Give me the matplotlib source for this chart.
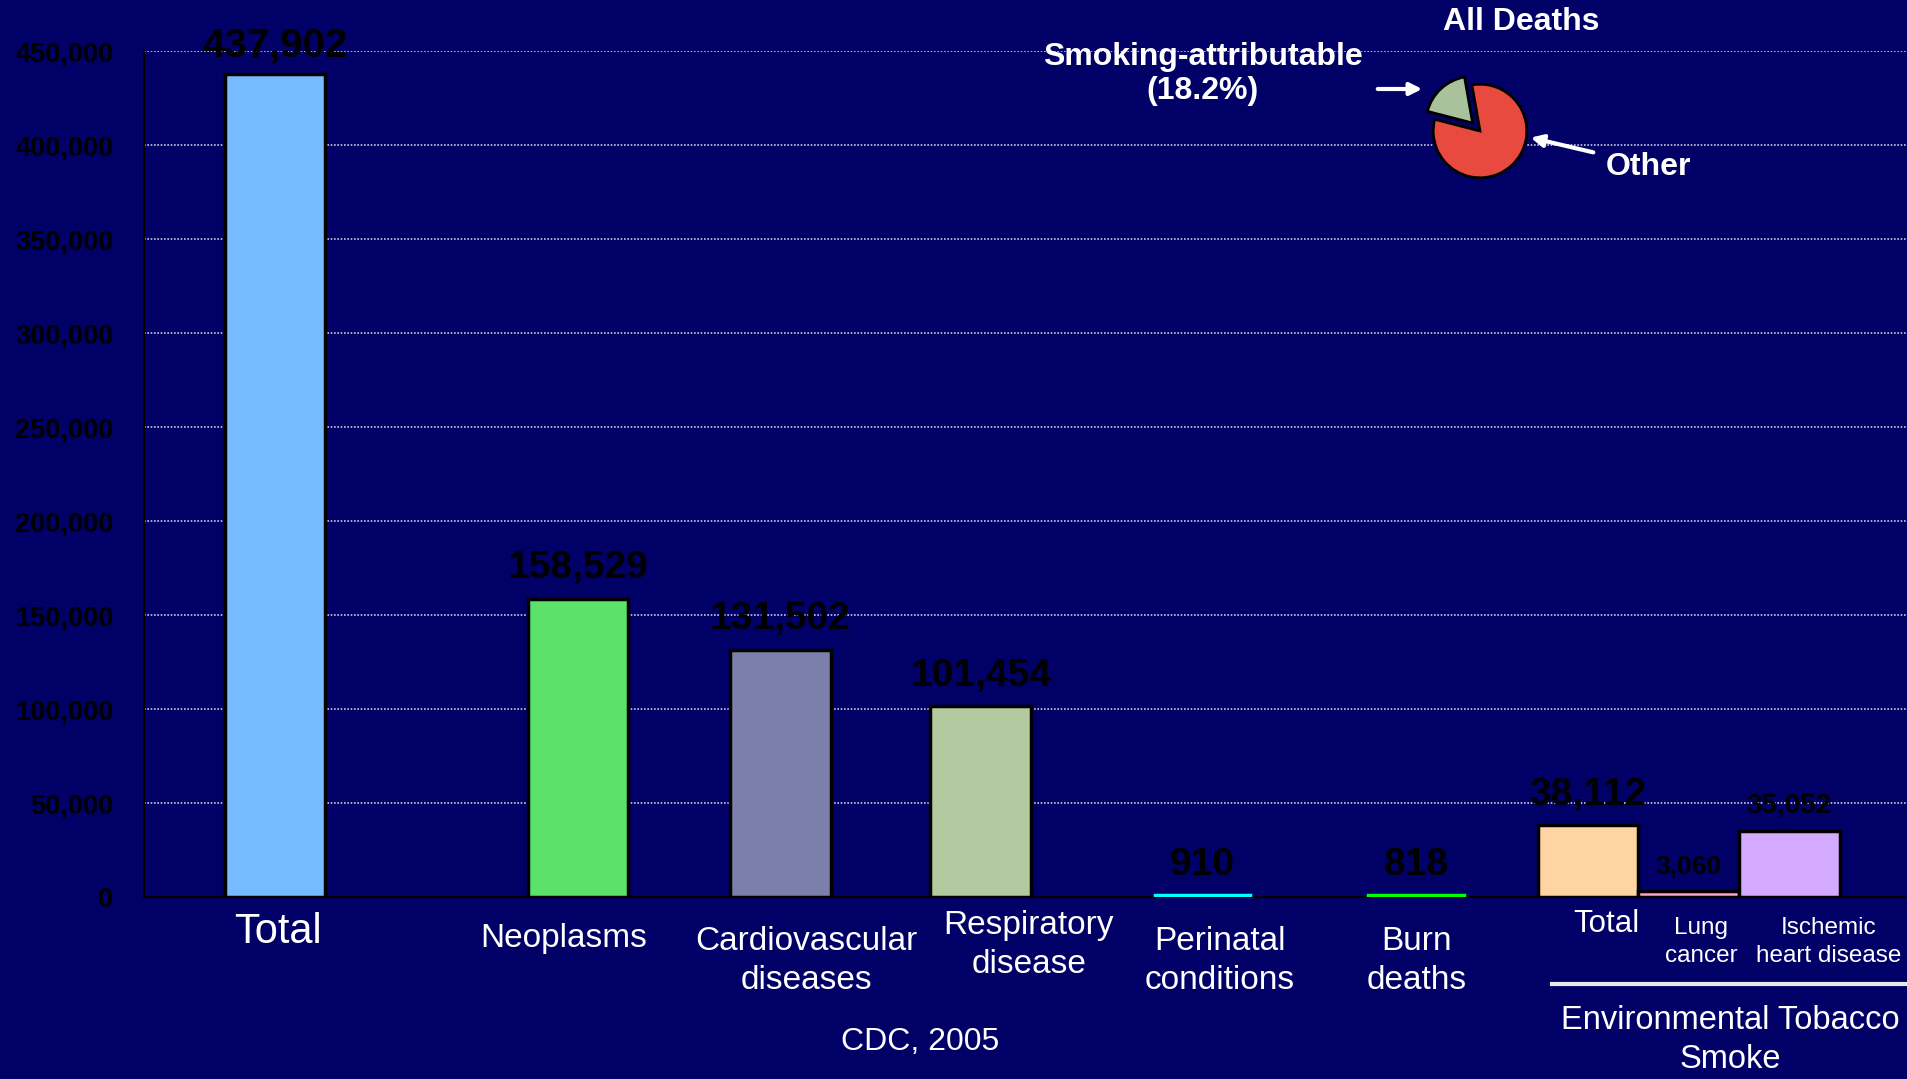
import matplotlib.pyplot as plt
from matplotlib.patches import FancyArrowPatch

# data
categories = ['Total', 'Neoplasms', 'Cardiovascular\ndiseases', 'Respiratory\ndisease',
              'Perinatal\nconditions', 'Burn\ndeaths', 'Total', 'Lung\ncancer',
              'Ischemic\nheart disease']
deaths = [437902, 158529, 131502, 101454, 910, 818, 38112, 3060, 35052]
value_labels = ['437,902', '158,529', '131,502', '101,454', '910', '818',
                '38,112', '3,060', '35,052']
pie_values = [18.2, 81.8]
yticks = list(range(0, 450001, 50000))

# layout
xpos = [1.30, 4.31, 6.32, 8.31, 10.51, 12.63, 14.34, 15.34, 16.34]
widths = [1.0, 1.0, 1.0, 1.0, 0.95, 0.95, 1.0, 1.0, 1.0]
colors = ['#77BBFF', '#5CE16A', '#7B7FAA', '#B3C9A0', '#00FFFF', '#00FF00',
          '#FFD4A3', '#FFA0C8', '#D4AAFF']
edges = ['black'] * 4 + ['#00FFFF', '#00FF00'] + ['black'] * 3
val_sizes = [29, 28, 28, 28, 28, 28, 28, 19, 20]
val_off = [7, 9, 9, 9, 9, 9, 9, 9, 9]
lab_x = [278, 564, 806, 1029, 1220, 1417, 1606, 1701, 1829]
lab_y = [932, 939, 961, 945, 961, 961, 924, 942, 942]
lab_size = [30, 24, 24, 24, 24, 24, 22.5, 17.5, 17.5]

BG = '#000066'
SANS = ['Liberation Sans', 'DejaVu Sans']
W, H = 1907, 1079

fig = plt.figure(figsize=(19.07, 10.79), dpi=100, facecolor=BG)
ax = fig.add_axes([144 / W, 1 - 897 / H, 1 - 144 / W, (897 - 51) / H], facecolor=BG)

ax.set_xlim(0, (W - 144) / 100.7)
ax.set_ylim(0, 450000)
ax.set_yticks(yticks)
ax.set_yticklabels([f'{t:,}' for t in yticks], family=SANS, fontsize=19.5,
                   fontweight='bold', color='black')
ax.tick_params(axis='y', length=0, pad=22)
ax.set_xticks([])
ax.grid(axis='y', color='#C8C8DC', linestyle=(0, (1, 1)), linewidth=1.2)
ax.set_axisbelow(True)
for s in ['top', 'right']:
    ax.spines[s].set_visible(False)
for s in ['left', 'bottom']:
    ax.spines[s].set_color('black')
    ax.spines[s].set_linewidth(1.5)

ax.bar(xpos, deaths, width=widths, color=colors, edgecolor=edges, linewidth=2.5, zorder=3)

for x, v, lab, fs, off in zip(xpos, deaths, value_labels, val_sizes, val_off):
    ax.annotate(lab, (x, v), xytext=(0, off), textcoords='offset points', ha='center',
                va='bottom', family=SANS, fontsize=fs, fontweight='bold',
                color='black', zorder=4)

for cat, x, y, fs in zip(categories, lab_x, lab_y, lab_size):
    fig.text(x / W, 1 - y / H, cat, ha='center', va='center', family=SANS,
             fontsize=fs, color='white', linespacing=1.3)

# ETS group bracket
fig.add_artist(plt.Line2D([1552 / W, 1], [1 - 984 / H] * 2, color='#E8E8E8', linewidth=3))
fig.text(1730 / W, 1 - 1040 / H, 'Environmental Tobacco\nSmoke', ha='center', va='center',
         family=SANS, fontsize=23.5, color='white', linespacing=1.3)

fig.text(920 / W, 1 - 1042 / H, 'CDC, 2005', ha='center', va='center',
         family=SANS, fontsize=23, color='white')

# pie inset
pax = fig.add_axes([(1480 - 60) / W, 1 - (131 + 60) / H, 120 / W, 120 / H])
pax.pie(pie_values, colors=['#A9C29B', '#E84A3F'], startangle=100, explode=[0.18, 0],
        radius=0.78, wedgeprops=dict(edgecolor='black', linewidth=2))
pax.set_xlim(-1, 1)
pax.set_ylim(-1, 1)
pax.set_aspect('equal')

bold = dict(family=SANS, fontweight='bold', color='white',
            fontsize=23, ha='center', va='center')
fig.text(1521 / W, 1 - 22 / H, 'All Deaths', **bold)
fig.text(1203 / W, 1 - 74 / H, 'Smoking-attributable\n(18.2%)', linespacing=1.2, **bold)
fig.text(1648 / W, 1 - 167 / H, 'Other', **bold)

arrow = dict(arrowstyle='-|>', color='white', lw=3, mutation_scale=18)
fig.add_artist(FancyArrowPatch((1375 / W, 1 - 89 / H), (1425 / W, 1 - 89 / H),
                               transform=fig.transFigure, **arrow))
fig.add_artist(FancyArrowPatch((1596 / W, 1 - 153 / H), (1528 / W, 1 - 137 / H),
                               transform=fig.transFigure, **arrow))

fig.savefig('out.png', dpi=100, facecolor=BG)
